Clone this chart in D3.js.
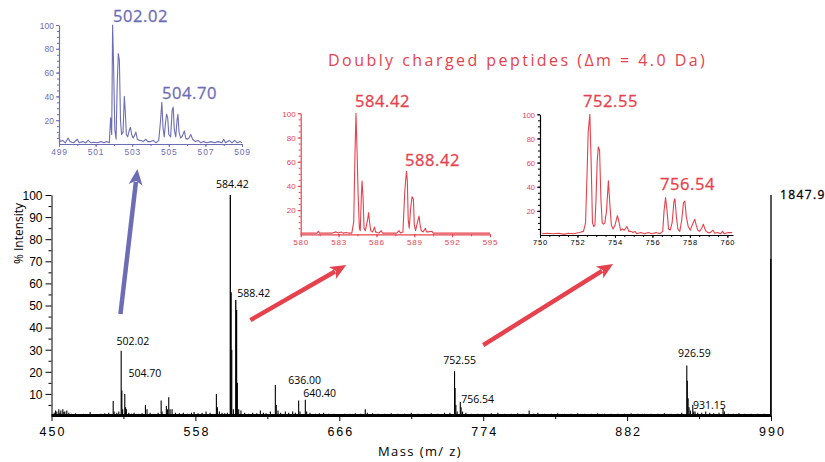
<!DOCTYPE html>
<html>
<head>
<meta charset="utf-8">
<script src="https://cdn.jsdelivr.net/npm/d3@7"></script>
<style>
  body { margin: 0; background: #fff; }
  svg { font-family: "Open Sans", "Noto Sans", sans-serif; }
</style>
</head>
<body>
<div id="wrapper"></div>
<script>
// main spectrum: [m/z, % intensity] sticks
const mainPeaks = [
  [452,1.5],[453,2.5],[454,2],[455.5,3],[456.3,1.5],[457,2.5],[458.5,3],[459.3,1.8],[460,2],[461.5,2.5],[463,1.5],[465,1],[468,1.2],
  [471,0.8],[474,1],[479,1.8],[483,0.8],[487,1],[490,1.2],[493,1.5],[496.3,6.8],[497,2],[499,1.5],
  [500.5,2],[502.3,29.5],[502.8,11.5],[503.4,3],[505,10],[505.6,4],[506.2,3],[508,1.5],[510,1],[512,1.5],
  [515,1],[518,1.2],[520.5,5],[521.7,3],[524,1.5],[527,1],[530,1.5],[532.3,7],[533,2],[536.2,4.5],
  [537,3],[538,8.5],[539,3],[540.5,3],[543,1.5],[546,1.2],[549,1.5],[552,1],[555,1.5],[557,1.8],
  [560,1.2],[563,1.5],[566,2],[569,1.5],[573.75,10],[574.5,4],[576,2],[578,1.5],[580,1.2],[582,1.5],
  [584.2,100],[584.8,56],[585.3,30],[586.5,3],[588.3,52.5],[588.9,48],[589.5,15],[590.5,3],[592.2,2.5],[595,1.5],
  [598,1],[601,1.5],[604,1.2],[606.75,2.5],[609,1.5],[611,1.2],[614.25,2],[618,14],[618.7,5],[620,2.5],
  [622,1.5],[625.5,2],[628,1.5],[631,2],[633,1.5],[635.5,7],[636.5,2],[640.5,7.3],[641.5,2],[644,1.5],
  [648,1],[651,1.2],[654.25,1.5],[658,1],[662,1],[666,0.8],[670,1],[674,1],[678,1.2],[682,1],
  [685.5,3],[687,1.5],[691,1.2],[695,1],[700,1],[705,1.2],[710,1],[715,1],[720,1.5],[725,1],
  [730,1],[735,1.2],[740,1],[745,1.5],[749,1.5],[752.5,20.3],[752.9,12.7],[753.5,5],[754.5,2],[756.8,6.3],
  [757.4,4],[758.5,2],[761,1.5],[765,1],[770,1],[775,1],[780,1.2],[785,1.5],[790,1],[795,1],
  [800,1.2],[804,1],[808.5,2.5],[812,1],[815,1.5],[820,1],[825,1],[830,1.2],[835,1],[840,1],
  [845,1.2],[850,1],[855,1],[860,1.2],[865,1],[870,1],[875,1],[880,1],[885,1.2],[890,1],
  [895,1],[900,1],[905,1],[910,1.2],[915,1],[920,1],[923,1.5],[926.8,22.8],[927.2,16],[927.8,8],
  [928.5,4],[929.5,2.5],[931.3,5],[932,2],[933,2],[935,1.5],[938,1.5],[941,2],[944,1.5],[947,1.2],
  [951,1.5],[954,3.5],[955,2],[958,1],[962,1],[966,1.2],[970,1],[975,1],[980,1],[985,1],
  [989.85,71],[990,100]
]
const mainXTicks = [450, 558, 666, 774, 882, 990]
const mainYTicks = [10, 20, 30, 40, 50, 60, 70, 80, 90, 100]

// labels on the main spectrum: text, m/z, intensity of the text baseline
const mainLabels = [
  { text: "584.42", mz: 585.75, level: 103.2, anchor: "middle" },
  { text: "588.42", mz: 589.5, level: 53.8, anchor: "start" },
  { text: "502.02", mz: 498.75, level: 32.1, anchor: "start" },
  { text: "504.70", mz: 507.75, level: 17.6, anchor: "start" },
  { text: "636.00", mz: 627.75, level: 14.5, anchor: "start" },
  { text: "640.40", mz: 639, level: 8.6, anchor: "start" },
  { text: "752.55", mz: 744, level: 23.5, anchor: "start" },
  { text: "756.54", mz: 757.5, level: 5.9, anchor: "start" },
  { text: "926.59", mz: 920.25, level: 26.7, anchor: "start" },
  { text: "931.15", mz: 931.5, level: 3.2, anchor: "start" }
]
const offScaleLabel = { text: "1847.9", mz: 996.75, level: 98.2 }

// arrows, in main-chart units: from [m/z, %] to [m/z, %]
const arrows = [
  { from: [501.75, 46.2], to: [514.5, 111.8], color: "#6d6db6" },
  { from: [599.25, 43.4], to: [671.25, 68.3], color: "#e6424d" },
  { from: [774, 32.1], to: [871.5, 68.8], color: "#e6424d" }
]

// zoomed profiles
const inset1Profile = [
  [499.0,8],[499.05,2],[499.2,3],[499.35,1],[499.5,5],[499.6,2],[499.8,1],[500.0,4],[500.1,1],[500.3,2],
  [500.45,1],[500.6,3],[500.75,1],[500.9,1.5],[501.1,1],[501.3,2],[501.45,1],[501.6,2],[501.75,1],[501.82,22],
  [501.88,8],[501.93,100],[501.98,68],[502.05,12],[502.12,4],[502.18,50],[502.24,76],[502.3,70],[502.36,20],[502.42,8],
  [502.5,10],[502.57,40],[502.62,28],[502.68,8],[502.75,6],[502.85,12],[502.9,14],[502.97,8],[503.05,5],[503.12,7],
  [503.2,10],[503.28,4],[503.4,3],[503.5,3],[503.6,2],[503.75,4],[503.85,2],[504.0,2],[504.15,3],[504.3,1],
  [504.45,3],[504.55,20],[504.62,35],[504.68,14],[504.75,6],[504.82,18],[504.88,25],[504.94,22],[505.0,8],[505.1,6],
  [505.18,28],[505.24,31],[505.3,12],[505.38,6],[505.45,20],[505.5,25],[505.56,10],[505.65,5],[505.75,7],[505.85,11],
  [505.92,5],[506.0,4],[506.1,5],[506.2,8],[506.3,4],[506.45,2],[506.6,3],[506.75,1],[506.9,2],[507.1,1],
  [507.3,2],[507.5,1],[507.7,2],[507.9,1],[508.0,4],[508.1,1],[508.3,3],[508.45,1],[508.6,3],[508.75,1],
  [508.9,2],[509.0,1]
]
const inset2Profile = [
  [580,1],[580.5,1],[581,1],[581.3,1],[581.4,2.5],[581.5,1],[582,1],[582.5,1],[582.8,2],[583,1],
  [583.2,2],[583.35,1],[583.6,1.5],[583.8,1],[584.05,1],[584.2,10],[584.3,66],[584.38,100],[584.47,67],[584.55,33],
  [584.65,5],[584.72,3],[584.8,30],[584.86,44],[584.94,31],[585.02,5],[585.12,3],[585.3,12],[585.38,18],[585.46,10],
  [585.55,3],[585.7,2],[585.85,6],[585.93,2],[586.05,1.5],[586.2,1],[586.38,3],[586.48,1],[586.8,1],[587.2,1],
  [587.6,1],[587.8,3],[587.9,1],[588.1,2],[588.25,36],[588.38,52],[588.45,44],[588.52,12],[588.6,5],[588.7,20],
  [588.82,31],[588.93,29],[589.0,8],[589.1,3],[589.3,12],[589.38,15],[589.46,8],[589.55,3],[589.7,2],[589.88,5],
  [589.96,2],[590.1,2],[590.4,2.5],[590.5,1],[591,1],[592,1],[593,1],[594,1],[595,1]
]
const inset3Profile = [
  [750.1,1],[750.4,1.5],[750.7,1],[751.0,1.5],[751.3,0.5],[751.5,1.5],[751.8,1],[752.1,2],[752.32,3],[752.43,10],
  [752.51,50],[752.57,85],[752.66,100],[752.73,60],[752.8,10],[752.87,7],[752.93,8],[752.99,30],[753.05,60],[753.11,73],
  [753.18,70],[753.25,30],[753.32,10],[753.39,9],[753.46,10],[753.55,20],[753.65,45],[753.73,25],[753.81,8],[753.9,5],
  [754.0,8],[754.13,16],[754.2,12],[754.3,4],[754.4,5],[754.5,4],[754.64,7],[754.74,3],[754.86,3],[754.96,2],
  [755.07,3],[755.17,1],[755.38,2],[755.58,1],[755.78,2],[755.98,1],[756.19,2],[756.39,1],[756.55,3],[756.62,20],
  [756.7,31],[756.78,20],[756.86,5],[756.95,4],[757.05,10],[757.15,28],[757.2,30],[757.28,15],[757.36,5],[757.46,3],
  [757.56,12],[757.66,27],[757.73,28],[757.81,15],[757.91,7],[758.02,4],[758.17,10],[758.26,13],[758.34,8],[758.42,4],
  [758.52,3],[758.64,6],[758.72,9],[758.8,5],[758.87,3],[758.97,2],[759.08,2],[759.23,4],[759.33,1.5],[759.48,2],
  [759.64,1],[759.74,3],[759.84,1],[760.05,2],[760.25,2]
]
const inset1XTicks = [499, 501, 503, 505, 507, 509]
const inset2XTicks = [580, 583, 586, 589, 592, 595]
const inset3XTicks = [750, 752, 754, 756, 758, 760]
const insetYTicks = [20, 40, 60, 80, 100]

const title = "Doubly charged peptides (\u0394m = 4.0 Da)"

const blue = "#6d6db6"
const red = "#e6424d"

const svg = d3.select("#wrapper")
  .append("svg")
    .attr("width", 825)
    .attr("height", 462)

// ---------- main spectrum ----------
const xScale = d3.scaleLinear().domain([450, 990]).range([51.5, 771])
const yScale = d3.scaleLinear().domain([0, 100]).range([416, 195])

const main = svg.append("g")

main.append("path")
    .attr("d", d3.line().x(d => xScale(d)).y(yScale(0.4))([450, 990]))
    .attr("stroke", "#000")
    .attr("stroke-width", 2.4)

main.selectAll("line.stick")
  .data(mainPeaks)
  .join("line")
    .attr("class", "stick")
    .attr("x1", d => xScale(d[0]))
    .attr("x2", d => xScale(d[0]))
    .attr("y1", yScale(0))
    .attr("y2", d => yScale(d[1]))
    .attr("stroke", "#000")
    .attr("stroke-width", d => d[1] > 40 ? 1.3 : 1.1)

// y axis
const yMinor = main.append("g")
    .attr("transform", `translate(${xScale(450)},0)`)
    .call(d3.axisLeft(yScale).tickValues(d3.range(5, 100, 10)).tickSize(3).tickFormat(""))
yMinor.select(".domain").remove()
const yAxis = main.append("g")
    .attr("transform", `translate(${xScale(450)},0)`)
    .call(d3.axisLeft(yScale).tickValues(mainYTicks).tickSize(6).tickSizeOuter(0).tickPadding(3))
yAxis.selectAll("text")
    .style("font-size", "12px")
    .attr("dy", "0.36em")
main.selectAll(".tick line, .domain").attr("stroke", "#000")

// x axis
const xMinor = main.append("g")
    .attr("transform", `translate(0,${yScale(0)})`)
    .call(d3.axisBottom(xScale).tickValues(d3.range(504, 990, 108)).tickSize(3).tickFormat(""))
xMinor.select(".domain").remove()
const xAxis = main.append("g")
    .attr("transform", `translate(0,${yScale(0)})`)
    .call(d3.axisBottom(xScale).tickValues(mainXTicks).tickSize(5).tickSizeOuter(0).tickPadding(6))
xAxis.selectAll("text")
    .style("font-size", "12.5px")
    .style("letter-spacing", "2px")
    .attr("dx", "1px")
main.selectAll(".tick line, .domain").attr("stroke", "#000")

main.append("text")
    .attr("x", 420)
    .attr("y", 456)
    .attr("text-anchor", "middle")
    .style("font-size", "13px")
    .style("letter-spacing", "1.4px")
    .text("Mass (m/ z)")

main.append("text")
    .attr("transform", `translate(23,${(yScale(0) + yScale(100)) / 2 - 72}) rotate(-90)`)
    .attr("text-anchor", "middle")
    .style("font-size", "12px")
    .text("% Intensity")

main.selectAll("text.peak")
  .data(mainLabels)
  .join("text")
    .attr("class", "peak")
    .attr("x", d => xScale(d.mz))
    .attr("y", d => yScale(d.level))
    .attr("text-anchor", d => d.anchor)
    .style("font-size", "10.5px")
    .text(d => d.text)

main.append("text")
    .attr("x", xScale(offScaleLabel.mz))
    .attr("y", yScale(offScaleLabel.level))
    .style("font-size", "12px")
    .style("letter-spacing", "1.4px")
    .attr("stroke", "#000")
    .attr("stroke-width", 0.3)
    .text(offScaleLabel.text)

// arrows
arrows.forEach(a => {
  const x0 = xScale(a.from[0]), y0 = yScale(a.from[1])
  const x1 = xScale(a.to[0]), y1 = yScale(a.to[1])
  const ang = Math.atan2(y1 - y0, x1 - x0)
  const headLen = 16, headW = 7
  const bx = x1 - headLen * Math.cos(ang), by = y1 - headLen * Math.sin(ang)
  const nx = -Math.sin(ang), ny = Math.cos(ang)
  main.append("line")
      .attr("x1", x0).attr("y1", y0)
      .attr("x2", bx + 3 * Math.cos(ang)).attr("y2", by + 3 * Math.sin(ang))
      .attr("stroke", a.color)
      .attr("stroke-width", 4.5)
  main.append("path")
      .attr("d", `M${x1},${y1}L${bx + nx * headW},${by + ny * headW}L${bx + 4 * Math.cos(ang)},${by + 4 * Math.sin(ang)}L${bx - nx * headW},${by - ny * headW}Z`)
      .attr("fill", a.color)
})

// ---------- insets ----------
const insets = [
  {
    data: inset1Profile, xDomain: [499, 509], xRange: [59, 242], yRange: [144, 25],
    xTicks: inset1XTicks, minorStep: 1, color: blue, axisColor: blue, xLabelColor: blue, fontSize: 8.5,
    labels: [{ text: "502.02", mz: 501.95, level: 102.5 }, { text: "504.70", mz: 504.63, level: 37.8 }]
  },
  {
    data: inset2Profile, xDomain: [580, 595], xRange: [300.7, 490], yRange: [234.3, 113.3],
    xTicks: inset2XTicks, minorStep: 1.5, color: red, axisColor: red, xLabelColor: red, fontSize: 8,
    labels: [{ text: "584.42", mz: 584.3, level: 105 }, { text: "588.42", mz: 588.26, level: 56.4 }]
  },
  {
    data: inset3Profile, xDomain: [750, 760.3], xRange: [540, 733], yRange: [235, 114.3],
    xTicks: inset3XTicks, minorStep: 0.5, color: red, axisColor: "#000", xLabelColor: "#000", fontSize: 7.5,
    labels: [{ text: "752.55", mz: 752.29, level: 106 }, { text: "756.54", mz: 756.4, level: 37.3 }]
  }
]

insets.forEach(inset => {
  const g = svg.append("g")
  const x = d3.scaleLinear().domain(inset.xDomain).range(inset.xRange)
  const y = d3.scaleLinear().domain([0, 100]).range(inset.yRange)
  const x0 = inset.xRange[0]

  g.append("path")
      .attr("d", d3.line().x(d => x(d[0])).y(d => y(d[1]))(inset.data))
      .attr("fill", "none")
      .attr("stroke", inset.color)
      .attr("stroke-width", 1.1)
      .attr("stroke-linejoin", "round")

  const yMin = g.append("g")
      .attr("transform", `translate(${x0},0)`)
      .call(d3.axisLeft(y).tickValues(d3.range(5, 101, 5)).tickSize(2).tickFormat(""))
  yMin.select(".domain").remove()
  const yA = g.append("g")
      .attr("transform", `translate(${x0},0)`)
      .call(d3.axisLeft(y).tickValues(insetYTicks).tickSize(3).tickSizeOuter(0).tickPadding(2))
  yA.selectAll("text")
      .attr("fill", inset.color)
      .style("font-size", inset.fontSize + "px")
      .attr("dy", "0.36em")

  const lo = inset.xDomain[0], hi = inset.xDomain[1]
  const xMin = g.append("g")
      .attr("transform", `translate(0,${inset.yRange[0]})`)
      .call(d3.axisBottom(x).tickValues(d3.range(lo, hi + 0.01, inset.minorStep)).tickSize(2).tickFormat(""))
  xMin.select(".domain").remove()
  const xA = g.append("g")
      .attr("transform", `translate(0,${inset.yRange[0]})`)
      .call(d3.axisBottom(x).tickValues(inset.xTicks).tickSize(3).tickSizeOuter(0).tickPadding(2))
  xA.selectAll("text")
      .attr("fill", inset.xLabelColor)
      .style("font-size", inset.fontSize + "px")
      .style("letter-spacing", "0.8px")

  g.selectAll(".tick line, .domain").attr("stroke", inset.axisColor)
  g.selectAll(".domain").attr("stroke-width", 1.2)

  g.selectAll("text.peak")
    .data(inset.labels)
    .join("text")
      .attr("class", "peak")
      .attr("x", d => x(d.mz))
      .attr("y", d => y(d.level))
      .attr("fill", inset.color)
      .attr("stroke", inset.color)
      .attr("stroke-width", 0.3)
      .style("font-size", "16.5px")
      .style("letter-spacing", "0.6px")
      .text(d => d.text)
})

svg.append("text")
    .attr("x", 328)
    .attr("y", 66)
    .attr("fill", red)
    .style("font-size", "16px")
    .style("letter-spacing", "2.45px")
    .text(title)
</script>
</body>
</html>
